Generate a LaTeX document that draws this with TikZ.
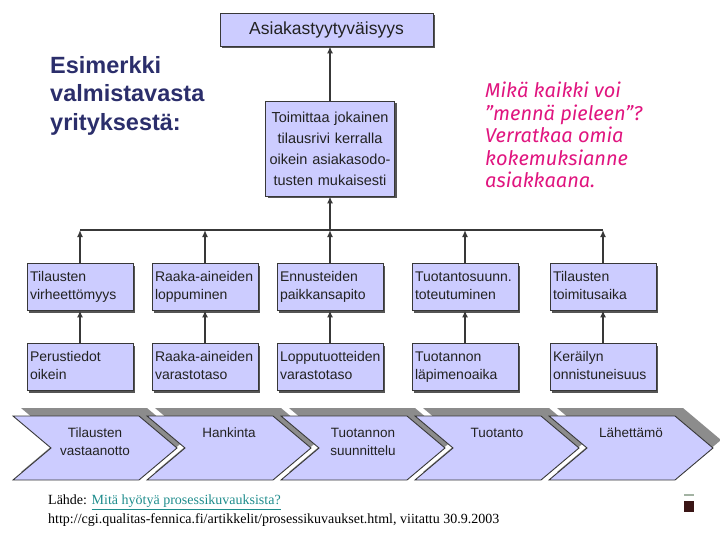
\documentclass[tikz,border=0pt]{standalone}
\usepackage{fontspec}
\setmainfont{Liberation Sans}
\newfontfamily\timesfont{Liberation Serif}
\newfontfamily\handfont{Fira Sans}
\usetikzlibrary{arrows.meta,positioning,shadows}
\definecolor{boxfill}{HTML}{CCCCFF}
\definecolor{ink}{HTML}{222222}
\definecolor{edge}{HTML}{383838}
\definecolor{shade}{HTML}{555555}
\definecolor{chevshade}{HTML}{8C8C8C}
\definecolor{navy}{HTML}{2B2E6B}
\definecolor{handcol}{HTML}{E0157F}
\definecolor{linkcol}{HTML}{1E8C8C}
\definecolor{decoline}{HTML}{A3B3A3}
\definecolor{decobox}{HTML}{3A1515}
\tikzset{
  >=Latex,
  every node/.style={text=ink},
  box/.style={draw=edge,line width=0.8pt,fill=boxfill,inner sep=3pt,
    drop shadow={shadow xshift=2pt,shadow yshift=-2.5pt,fill=shade,opacity=1}},
  rowbox/.style={box,text width=100pt,inner xsep=3pt,minimum height=47pt,align=left,
    font=\fontsize{14}{18}\selectfont,execute at begin node=\strut,execute at end node=\strut},
  midbox/.style={box,text width=123pt,minimum height=95pt,align=center,
    font=\fontsize{14.5}{21}\selectfont},
  topbox/.style={box,minimum width=213pt,minimum height=33pt,align=center,
    font=\fontsize{17.5}{20}\selectfont},
  arrow/.style={-{Latex[length=7pt,width=6pt]},line width=1.4pt,draw=edge},
  wire/.style={line width=1.6pt,draw=edge},
  chev/.style={fill=boxfill,draw=edge,line width=0.9pt,line join=miter},
  chevtext/.style={align=center,inner sep=0pt,font=\fontsize{13.5}{18}\selectfont},
  heading/.style={align=left,inner sep=0pt,text=navy,font=\fontsize{23.5}{28.5}\selectfont\bfseries},
  handnote/.style={align=left,inner sep=0pt,text=handcol,font=\handfont\itshape\fontsize{20}{22.5}\selectfont},
  source/.style={align=left,inner sep=0pt,text=black,font=\timesfont\fontsize{14}{19}\selectfont},
}

\begin{document}
\begin{tikzpicture}[x=1pt,y=-1pt]
\useasboundingbox (0,0) rectangle (720,540);

\node[topbox] (sat) at (326.5,29.5) {Asiakastyytyväisyys};
\node[midbox] (deliver) at (330,148.5) {Toimittaa jokainen\\tilausrivi kerralla\\oikein asiakasodo-\\tusten mukaisesti};

\node[rowbox] (errfree) at (80,286.5) {Tilausten\\virheettömyys};
\node[rowbox] (rawout) at (205,286.5) {Raaka-aineiden\\loppuminen};
\node[rowbox] (forecast) at (330,286.5) {Ennusteiden\\paikkansapito};
\node[rowbox] (plan) at (465,286.5) {Tuotantosuunn.\\toteutuminen};
\node[rowbox] (leadtime) at (603,286.5) {Tilausten\\toimitusaika};

\node[rowbox,below=33pt of errfree] (basedata) {Perustiedot\\oikein};
\node[rowbox,below=33pt of rawout] (rawstock) {Raaka-aineiden\\varastotaso};
\node[rowbox,below=33pt of forecast] (endstock) {Lopputuotteiden\\varastotaso};
\node[rowbox,below=33pt of plan] (throughput) {Tuotannon\\läpimenoaika};
\node[rowbox,below=33pt of leadtime] (picking) {Keräilyn\\onnistuneisuus};

\coordinate (barL) at (80,230);
\coordinate (barR) at (603,230);
\draw[wire] (barL) -- (barR);
\foreach \n in {errfree,rawout,forecast,plan,leadtime}
  \draw[arrow] (\n.north) -- (\n.north |- barL);
\draw[arrow] (deliver.south |- barL) -- (deliver.south);
\draw[arrow] (deliver.north) -- (deliver.north |- sat.south);

\draw[arrow] (basedata) -- (errfree);
\draw[arrow] (rawstock) -- (rawout);
\draw[arrow] (endstock) -- (forecast);
\draw[arrow] (throughput) -- (plan);
\draw[arrow] (picking) -- (leadtime);

\foreach \i in {0,...,4}
  \fill[chevshade] ({21+134*\i},408) -- ++(126,0) -- ++(38,32) -- ++(-38,32) -- ++(-126,0) -- ++(38,-32) -- cycle;
\foreach \i/\txt in {0/{Tilausten\\vastaanotto},1/Hankinta,2/{Tuotannon\\suunnittelu},3/Tuotanto,4/Lähettämö}{
  \draw[chev] ({13+134*\i},416) -- ++(126,0) -- ++(38,32) -- ++(-38,32) -- ++(-126,0) -- ++(38,-32) -- cycle;
  \node[chevtext,anchor=north] (step\i) at ({95+134*\i},428) {\txt};
}

\node[heading,anchor=north west] (example) at (50,56) {Esimerkki\\valmistavasta\\yrityksestä:};
\node[handnote,anchor=north west] (question) at (485,82) {Mikä kaikki voi\\”mennä pieleen”?\\Verratkaa omia\\kokemuksianne\\asiakkaana.};
\node[source,anchor=north west] (ref) at (48,495) {Lähde: {\color{linkcol}\underline{Mitä hyötyä prosessikuvauksista?}}\\http://cgi.qualitas-fennica.fi/artikkelit/prosessikuvaukset.html, viitattu 30.9.2003};

\fill[decoline] (684,494) rectangle (694,496);
\fill[decobox] (684,501) rectangle (694,512);
\end{tikzpicture}
\end{document}
